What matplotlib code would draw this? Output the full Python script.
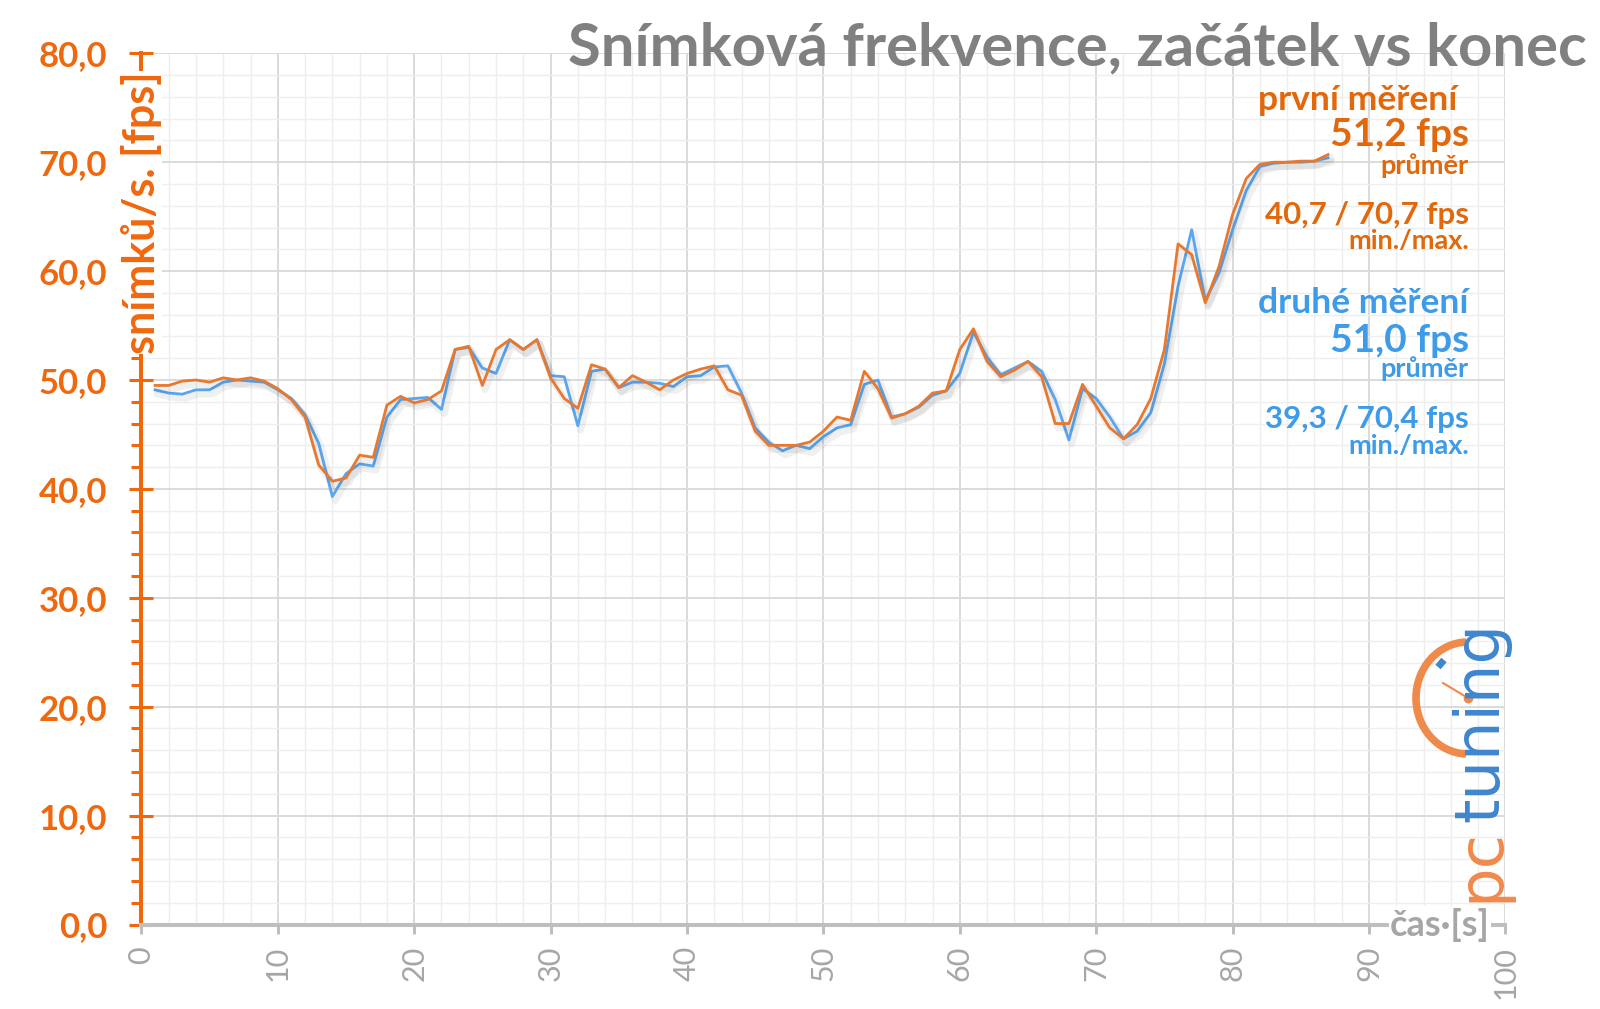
import matplotlib
matplotlib.use("Agg")
import matplotlib.pyplot as plt
import matplotlib.patheffects as pe
from matplotlib.patches import Arc
from matplotlib.ticker import MultipleLocator
from matplotlib.transforms import blended_transform_factory

# ---------------- data ----------------
seconds = list(range(1, 88))
first_run = [49.5, 49.5, 49.9, 50.0, 49.8, 50.2, 50.0, 50.2, 49.9, 49.2,
             48.2, 46.6, 42.2, 40.7, 41.0, 43.1, 42.9, 47.7, 48.5, 47.9,
             48.2, 49.0, 52.8, 53.1, 49.5, 52.8, 53.7, 52.8, 53.7, 50.2,
             48.3, 47.4, 51.4, 51.0, 49.3, 50.4, 49.8, 49.1, 50.0, 50.6,
             51.0, 51.3, 49.1, 48.6, 45.3, 44.0, 44.0, 44.0, 44.3, 45.3,
             46.6, 46.3, 50.8, 49.2, 46.5, 46.9, 47.6, 48.8, 49.0, 52.8,
             54.7, 51.7, 50.3, 50.9, 51.7, 50.3, 46.0, 46.0, 49.6, 47.6,
             45.6, 44.6, 45.9, 48.3, 52.8, 62.5, 61.5, 57.1, 60.4, 65.2,
             68.5, 69.8, 70.0, 70.0, 70.1, 70.1, 70.7]
second_run = [49.1, 48.8, 48.7, 49.1, 49.1, 49.8, 50.0, 49.9, 49.8, 49.1,
              48.3, 46.8, 44.2, 39.3, 41.4, 42.3, 42.1, 46.6, 48.2, 48.3,
              48.4, 47.3, 52.8, 53.0, 51.1, 50.6, 53.7, 52.8, 53.7, 50.4,
              50.3, 45.8, 50.8, 51.0, 49.3, 49.8, 49.8, 49.7, 49.4, 50.3,
              50.4, 51.2, 51.3, 48.8, 45.6, 44.3, 43.5, 44.0, 43.7, 44.8,
              45.6, 45.9, 49.6, 50.0, 46.6, 46.9, 47.5, 48.6, 49.0, 50.6,
              54.4, 52.1, 50.5, 51.1, 51.7, 50.8, 48.2, 44.5, 49.2, 48.3,
              46.6, 44.6, 45.3, 47.0, 51.5, 58.6, 63.8, 57.3, 59.8, 63.8,
              67.4, 69.6, 69.9, 70.0, 70.0, 70.1, 70.4]

title = "Snímková frekvence, začátek vs konec"
y_label = "snímků/s. [fps]"
x_label = "čas·[s]"
x_ticks = [0, 10, 20, 30, 40, 50, 60, 70, 80, 90, 100]
y_ticks = [0, 10, 20, 30, 40, 50, 60, 70, 80]
y_tick_labels = ["0,0", "10,0", "20,0", "30,0", "40,0", "50,0", "60,0", "70,0", "80,0"]

first_name, first_avg, first_minmax = "první měření", "51,2 fps", "40,7 / 70,7 fps"
second_name, second_avg, second_minmax = "druhé měření", "51,0 fps", "39,3 / 70,4 fps"
avg_word, minmax_word = "průměr", "min./max."

# ---------------- style ----------------
FONT = ["Lato", "DejaVu Sans"]
plt.rcParams["font.family"] = FONT
ORANGE_AX = "#F0680E"
ORANGE_TXT = "#E2680C"
ORANGE_LINE = "#E9782F"
BLUE_LINE = "#5AA6EE"
BLUE_TXT = "#3D9BE8"
GREY_TITLE = "#808080"
GREY_AX = "#BFBFBF"
GREY_TICK = "#A6A6A6"

W, H = 1600, 1009
fig = plt.figure(figsize=(W / 100, H / 100), dpi=100)
fig.patch.set_facecolor("white")


def fx(x):
    return x / W


def fy(y):
    return 1 - y / H


ax_l, ax_r, ax_b, ax_t = 141.4, 1505.4, 924.5, 53.3
ax = fig.add_axes([fx(ax_l), fy(ax_b), fx(ax_r - ax_l), (ax_b - ax_t) / H])
ax.set_xlim(0, 100)
ax.set_ylim(0, 80)

# grid
ax.xaxis.set_major_locator(MultipleLocator(10))
ax.xaxis.set_minor_locator(MultipleLocator(2))
ax.yaxis.set_major_locator(MultipleLocator(10))
ax.yaxis.set_minor_locator(MultipleLocator(2))
ax.grid(which="minor", color="#EEEEEE", linewidth=1.0, zorder=0)
ax.grid(which="major", color="#DADADA", linewidth=1.4, zorder=0)
ax.set_axisbelow(True)

# lines with soft shadow
shadow = [pe.SimpleLineShadow(offset=(2, -3), shadow_color="#000000", alpha=0.06, linewidth=5),
          pe.Normal()]
ax.plot(seconds, second_run, color=BLUE_LINE, linewidth=2.0, zorder=3, path_effects=shadow)
ax.plot(seconds, first_run, color=ORANGE_LINE, linewidth=2.0, zorder=4, path_effects=shadow)

# spines
for s in ("top", "right"):
    ax.spines[s].set_visible(False)
ax.spines["left"].set_color(ORANGE_AX)
ax.spines["left"].set_linewidth(2.9)
ax.spines["bottom"].set_color(GREY_AX)
ax.spines["bottom"].set_linewidth(2.9)

ax.set_yticks(y_ticks)
ax.set_yticklabels(y_tick_labels)
ax.set_xticks(x_ticks)
ax.set_xticklabels([str(v) for v in x_ticks], rotation=90)

ax.tick_params(axis="y", which="major", direction="inout", length=17, width=2.2,
               color=ORANGE_AX, pad=16, labelsize=25, labelcolor=ORANGE_AX)
ax.tick_params(axis="y", which="minor", direction="out", length=7, width=2.2, color=ORANGE_AX)
for lab in ax.get_yticklabels():
    lab.set_fontweight("bold")
ax.tick_params(axis="x", which="major", direction="out", length=6.5, width=2.2,
               color=GREY_AX, pad=9, labelsize=22, labelcolor=GREY_TICK)
ax.tick_params(axis="x", which="minor", length=0)

# axis labels drawn over the spines
trans_y = blended_transform_factory(ax.transAxes, ax.transData)
ax.text(0, 65.4, y_label, transform=trans_y, rotation=90, ha="center", va="center",
        color=ORANGE_AX, fontsize=31, fontweight="bold", zorder=10, clip_on=False,
        bbox=dict(facecolor="white", edgecolor="none", pad=0))
trans_x = blended_transform_factory(ax.transData, ax.transAxes)
ax.text(95.2, 0, x_label, transform=trans_x, ha="center", va="center",
        color=GREY_TICK, fontsize=26, fontweight="bold", zorder=10, clip_on=False,
        bbox=dict(facecolor="white", edgecolor="none", pad=1))

# title
fig.text(fx(1587), fy(48), title, ha="right", va="center", color=GREY_TITLE,
         fontsize=43, fontweight="bold")

# summary texts
rx = fx(1469)
fig.text(fx(1457), fy(100), first_name, ha="right", va="center", color=ORANGE_TXT, fontsize=25.5, fontweight="bold")
fig.text(rx, fy(135), first_avg, ha="right", va="center", color=ORANGE_TXT, fontsize=28, fontweight="bold")
fig.text(rx, fy(166), avg_word, ha="right", va="center", color=ORANGE_TXT, fontsize=19.5, fontweight="bold")
fig.text(rx, fy(215), first_minmax, ha="right", va="center", color=ORANGE_TXT, fontsize=22.5, fontweight="bold")
fig.text(rx, fy(241), minmax_word, ha="right", va="center", color=ORANGE_TXT, fontsize=19.5, fontweight="bold")

fig.text(rx, fy(303), second_name, ha="right", va="center", color=BLUE_TXT, fontsize=25.5, fontweight="bold")
fig.text(rx, fy(340), second_avg, ha="right", va="center", color=BLUE_TXT, fontsize=28, fontweight="bold")
fig.text(rx, fy(369), avg_word, ha="right", va="center", color=BLUE_TXT, fontsize=19.5, fontweight="bold")
fig.text(rx, fy(419), second_minmax, ha="right", va="center", color=BLUE_TXT, fontsize=22.5, fontweight="bold")
fig.text(rx, fy(446), minmax_word, ha="right", va="center", color=BLUE_TXT, fontsize=19.5, fontweight="bold")

# logo (pixel overlay)
lax = fig.add_axes([0, 0, 1, 1], facecolor="none")
lax.set_xlim(0, W)
lax.set_ylim(0, H)
lax.axis("off")
cx, cy = 1468, H - 698
LOGO_O, LOGO_B = "#F08A4B", "#3F86CF"
lax.add_patch(Arc((cx, cy), 104, 112, theta1=92, theta2=268, color=LOGO_O, linewidth=5.5))
lax.plot([1443, cx], [H - 683, cy], color=LOGO_O, linewidth=1.5)
lax.plot([cx], [cy], "o", color=LOGO_O, markersize=6)
lax.plot([1438, 1444], [H - 667, H - 660], color=LOGO_B, linewidth=5, solid_capstyle="butt")
lax.text(1498, H - 822, "tuning", rotation=90, rotation_mode="anchor", ha="left", va="baseline",
         color=LOGO_B, fontsize=45, fontfamily=["DejaVu Sans"])
lax.text(1498, H - 828, "pc", rotation=90, rotation_mode="anchor", ha="right", va="baseline",
         color=LOGO_O, fontsize=45, fontfamily=["DejaVu Sans"])

fig.savefig("out.png", dpi=100, facecolor="white")
